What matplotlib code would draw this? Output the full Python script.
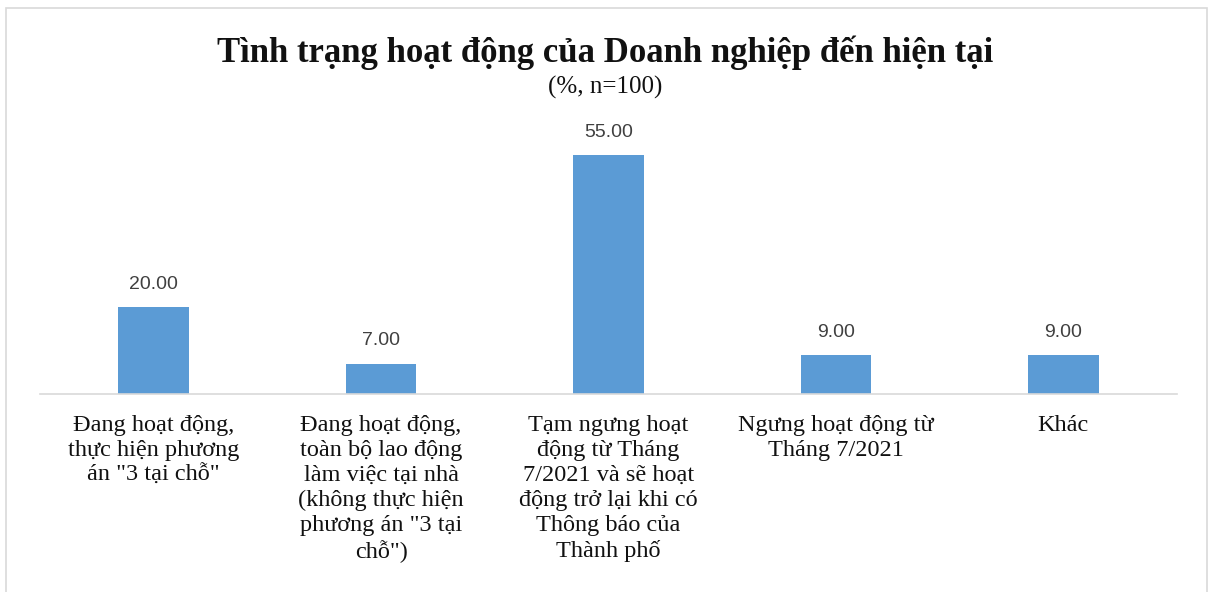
import matplotlib
matplotlib.use("Agg")
import matplotlib.pyplot as plt
from matplotlib.patches import Rectangle

# data
categories = [
    'Đang hoạt động,\nthực hiện phương\nán "3 tại chỗ"',
    'Đang hoạt động,\ntoàn bộ lao động\nlàm việc tại nhà\n(không thực hiện\nphương án "3 tại\nchỗ")',
    'Tạm ngưng hoạt\nđộng từ Tháng\n7/2021 và sẽ hoạt\nđộng trở lại khi có\nThông báo của\nThành phố',
    'Ngưng hoạt động từ\nTháng 7/2021',
    'Khác',
]
values = [20.00, 7.00, 55.00, 9.00, 9.00]

title = 'Tình trạng hoạt động của Doanh nghiệp đến hiện tại'
subtitle = '(%, n=100)'

plt.rcParams['font.family'] = ['Liberation Serif', 'DejaVu Serif']

fig = plt.figure(figsize=(12.11, 5.92), dpi=100)
ax = fig.add_axes([0.033, 0.3345, 0.939, 0.4625])

x = list(range(len(values)))
bars = ax.bar(x, values, width=0.31, color='#5B9BD5', zorder=2)

# value labels above the bars
for b, v in zip(bars, values):
    ax.annotate(f'{v:.2f}', (b.get_x() + b.get_width() / 2, v),
                xytext=(0, 13), textcoords='offset points',
                ha='center', va='baseline', fontsize=14,
                family=['Liberation Sans', 'DejaVu Sans'], color='#404040')

ax.set_xlim(-0.5, len(values) - 0.5)
ax.set_ylim(0, 63)
ax.set_yticks([])
ax.set_xticks(x)
ax.set_xticklabels(categories, fontsize=17.5, color='#111111', linespacing=1.25)
ax.tick_params(axis='x', length=0, pad=15)
for s in ['top', 'right', 'left']:
    ax.spines[s].set_visible(False)
ax.spines['bottom'].set_color('#D9D9D9')
ax.spines['bottom'].set_linewidth(1.2)

fig.text(0.5, 1 - 62 / 592, title, ha='center', va='baseline', fontsize=25,
         fontweight='bold', color='#111111')
fig.text(0.5, 1 - 94 / 592, subtitle, ha='center', va='baseline', fontsize=18,
         color='#111111')

# light frame around the chart area
fig.patches.append(Rectangle((0.005, -0.02), 0.9917, 1.0065, transform=fig.transFigure,
                             fill=False, edgecolor='#D9D9D9', linewidth=1.2))

fig.savefig('out.png', dpi=100)
